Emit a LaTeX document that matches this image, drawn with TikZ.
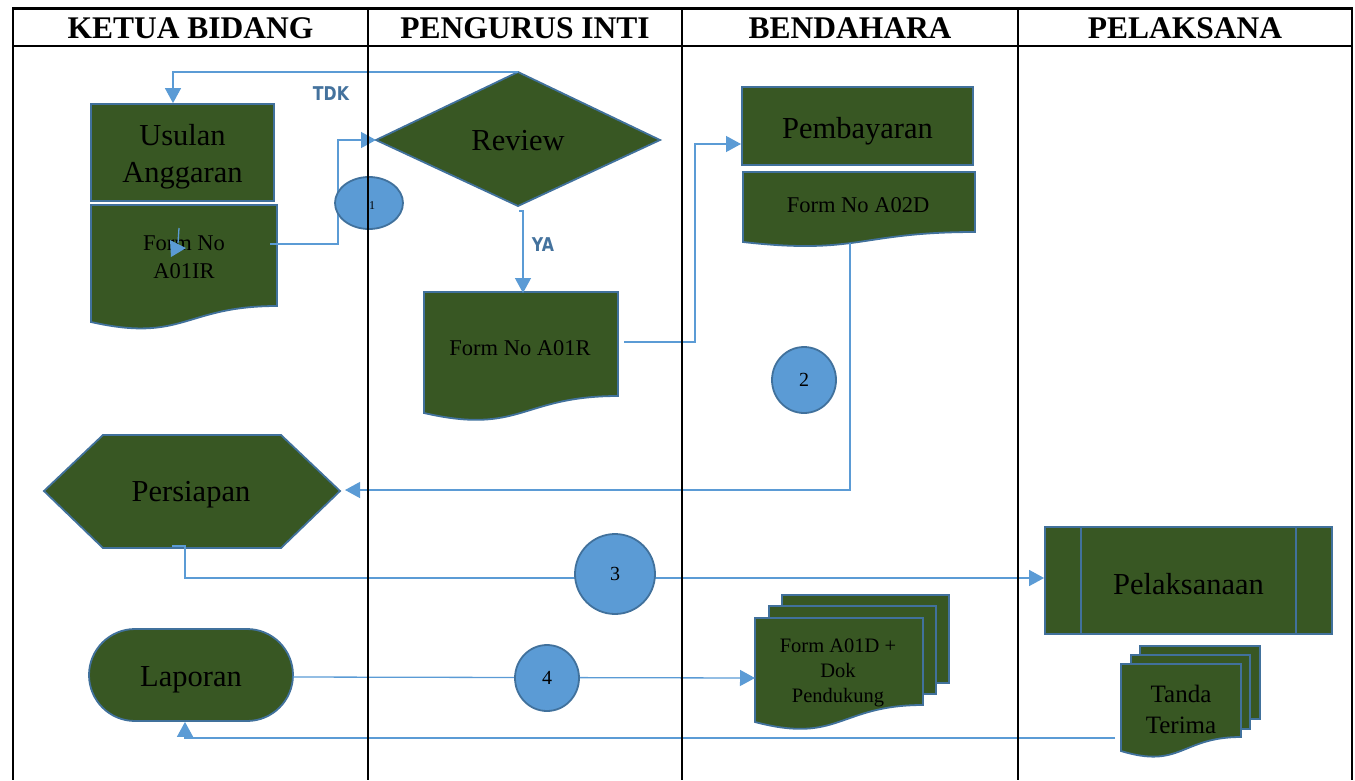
\documentclass[tikz,border=0pt]{standalone}
\usepackage{fontspec}
\setmainfont{Liberation Serif}
\newfontfamily\lblfont{DejaVu Sans}
\usetikzlibrary{arrows.meta,shapes.geometric}
\definecolor{shfill}{HTML}{385723}
\definecolor{shedge}{HTML}{41719C}
\definecolor{connc}{HTML}{5B9BD5}
\definecolor{lblc}{HTML}{44729D}
% document shape: xl, xr, ytop, yRightBottom, yLeftBottom
\newcommand\docpath[5]{%
  \path[shp] (#1,#3) -- (#2,#3) -- (#2,#4)
    .. controls ({(#1+#2)/2},#4) and ({(#1+#2)/2},{#4+2.31*(#5-#4)}) .. (#1,#5) -- cycle;}
\newcommand\backdoc[4]{\path[shp] (#1,#3) rectangle (#2,#4);}
\begin{document}
\begin{tikzpicture}[x=1pt,y=-1pt,
  shp/.style={fill=shfill,draw=shedge,line width=1.8pt},
  box/.style={shp,rectangle,inner sep=0pt},
  plain/.style={inner sep=0pt,align=center,text=black},
  big/.style={font=\fontsize{30.5}{37}\selectfont},
  med/.style={font=\fontsize{22.5}{28}\selectfont},
  flow/.style={draw=connc,line width=1.3pt},
  arr/.style={-{Triangle[length=15pt,width=16pt]}},
  circ/.style={ellipse,fill=connc,draw=shedge,line width=1.8pt,inner sep=0pt},
  gridline/.style={black,line width=2pt},
  head/.style={plain,font=\fontsize{31.5}{36}\selectfont\bfseries},
  lbl/.style={plain,text=lblc}
]
\useasboundingbox (0,0) rectangle (1355,780);

% ---------- shapes ----------
\node[box,minimum width=183pt,minimum height=97pt] (usulan) at (182.5,152.5) {};
\node[plain,big] (usulanT) at (182.5,157) {Usulan\\Anggaran};
\docpath{91}{277}{205}{306}{322}
\node[plain,med] (a01ir) at (184,257) {Form No\\A01IR};

\path[shp] (376,140) -- (518,72) -- (660,140) -- (518,206) -- cycle;
\node[plain,big] (review) at (518,141) {Review};
\coordinate (revT) at (518,72);
\coordinate (revL) at (376,140);

\docpath{424}{618}{292}{396}{413}
\node[plain,med] (a01r) at (520,348) {Form No A01R};

\node[box,minimum width=231pt,minimum height=78pt] (bayar) at (857.5,126) {};
\node[plain,big] (bayarT) at (857.5,131) {Pembayaran};
\coordinate (bayarIn) at (741,144);
\docpath{743}{975}{172}{232}{242}
\node[plain,med] (a02d) at (858,205) {Form No A02D};

\path[shp] (44,491) -- (103,435) -- (281,435) -- (340,491) -- (281,548) -- (103,548) -- cycle;
\node[plain,big] (persiapan) at (191,495) {Persiapan};
\coordinate (persR) at (345,490);

\node[box,minimum width=287pt,minimum height=107pt] (pelak) at (1188.5,580.5) {};
\node[plain,big] (pelakT) at (1188.5,584) {Pelaksanaan};
\draw[shedge,line width=1.8pt] (1081,527) -- (1081,634) (1296,527) -- (1296,634);

\node[box,minimum width=204pt,minimum height=92pt,rounded corners=46pt] (laporan) at (191,675) {};
\node[plain,big] (laporanT) at (191,680) {Laporan};
\coordinate (lapOut) at (293,677);

\backdoc{782}{949}{595}{683}
\backdoc{769}{936}{606}{694}
\docpath{755}{923}{618}{705}{722}
\node[plain,font=\fontsize{20.5}{25}\selectfont] (a01d) at (838,673) {Form A01D +\\Dok\\Pendukung};
\coordinate (a01dIn) at (755,678);

\backdoc{1140}{1260}{646}{719}
\backdoc{1131}{1250}{655}{729}
\docpath{1121}{1241}{664}{737}{751}
\node[plain,font=\fontsize{25}{31}\selectfont] (tanda) at (1181,709) {Tanda\\Terima};

% ---------- connectors ----------
\coordinate (a01irOut) at (270,244);
\coordinate (j1) at (338,244);
\draw[flow,arr] (a01irOut) -- (j1) |- (revL);

\draw[flow,arr] (revT) -- (173,72) -- (usulan.north -| 173,0);

\coordinate (yaTop) at (519,211);
\draw[flow,arr] (yaTop) -- (523,211) -- (523,293);

\coordinate (a01rOut) at (624,342);
\draw[flow,arr] (a01rOut) -- (695,342) |- (bayarIn);

\coordinate (a02dOut) at (850,243);
\draw[flow,arr] (a02dOut) -- (850,490) -- (persR);

\coordinate (persOut) at (172,546);
\draw[flow,arr] (persOut) -- (185,546) -- (185,578) -- (pelak.west |- 0,578);

\draw[flow,arr] (lapOut) -- (a01dIn);

\coordinate (tandaOut) at (1115,738);
\draw[flow,arr] (tandaOut) -- (185,738) -- (laporan.south -| 185,0);

% small stray arrow inside Form No A01IR
\draw[flow] (179,228) -- (178,243);
\fill[connc] (170,240) -- (186,248) -- (171,257) -- cycle;

% ---------- circles ----------
\node[circ,minimum width=68pt,minimum height=52pt] (c1) at (369,203) {};
\node[circ,minimum width=64pt,minimum height=66pt,font=\fontsize{20}{24}\selectfont] (c2) at (804,380) {2};
\node[circ,minimum width=80pt,minimum height=80pt,font=\fontsize{20}{24}\selectfont] (c3) at (615,574) {3};
\node[circ,minimum width=64pt,minimum height=66pt,font=\fontsize{20}{24}\selectfont] (c4) at (547,678) {4};

% ---------- table ----------
\draw[gridline,line width=3pt] (12,8) -- (1353,8);
\draw[gridline] (13,46) -- (1352,46);
\draw[gridline] (13,8) -- (13,780) (368,8) -- (368,780) (682,8) -- (682,780)
  (1018,8) -- (1018,780) (1352,8) -- (1352,780);
\node[head] (h1) at (190.5,28) {KETUA BIDANG};
\node[head] (h2) at (525,28) {PENGURUS INTI};
\node[head] (h3) at (850,28) {BENDAHARA};
\node[head] (h4) at (1185,28) {PELAKSANA};

\node[plain,font=\fontsize{12}{14}\selectfont] (c1t) at (372,206) {1};

% ---------- labels ----------
\node[lbl] (tdk) at (331,94) {\scalebox{0.83}[1]{\lblfont\bfseries\fontsize{19}{22}\selectfont TDK}};
\node[lbl] (ya) at (543,245) {\scalebox{0.83}[1]{\lblfont\bfseries\fontsize{19}{22}\selectfont YA}};
\end{tikzpicture}
\end{document}
